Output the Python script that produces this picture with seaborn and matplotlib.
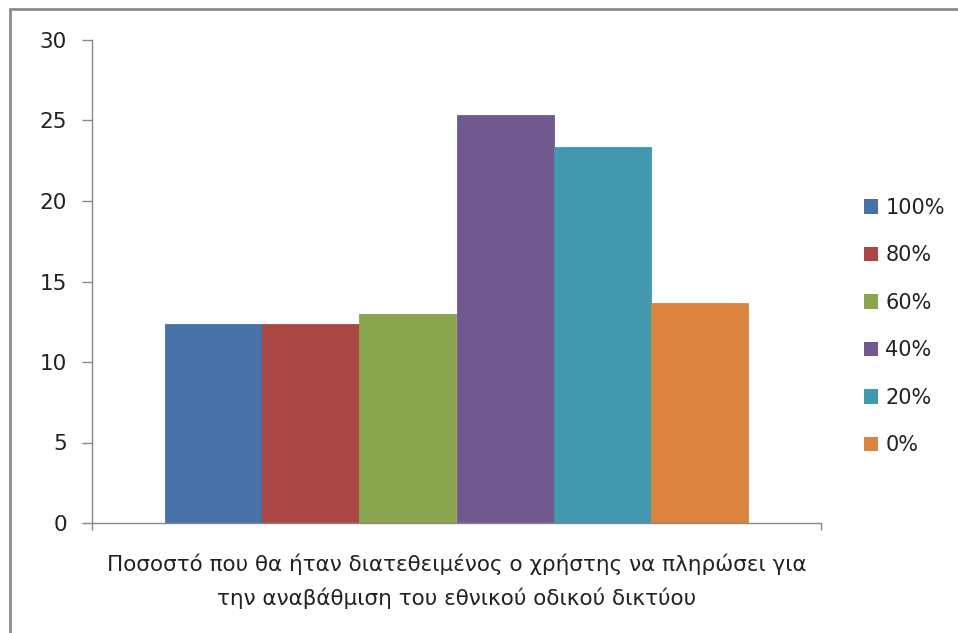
import matplotlib
matplotlib.use("Agg")
import matplotlib.pyplot as plt
import matplotlib.patches as mpatches
import pandas as pd
import seaborn as sns

# Survey answers: share of respondents per willingness-to-pay level
category = ["Ποσοστό που θα ήταν διατεθειμένος ο χρήστης να πληρώσει για\nτην αναβάθμιση του εθνικού οδικού δικτύου"]
levels = ["100%", "80%", "60%", "40%", "20%", "0%"]
shares = [12.33, 12.33, 13.0, 25.33, 23.33, 13.67]
colors = ["#4672A8", "#AA4644", "#89A54E", "#71588F", "#4198AF", "#DB843D"]
yticks = [0, 5, 10, 15, 20, 25, 30]

sns.set_theme(style="white")
plt.rcParams["font.family"] = ["DejaVu Sans"]

df = pd.DataFrame({
    "category": category * len(levels),
    "level": levels,
    "share": shares,
})

fig = plt.figure(figsize=(9.58, 6.33), dpi=100)
ax = fig.add_axes([92 / 958, 1 - 523 / 633, (821 - 92) / 958, (523 - 40) / 633])

sns.barplot(data=df, x="category", y="share", hue="level", hue_order=levels,
            palette=colors, width=0.8, saturation=1, ax=ax, legend=True,
            edgecolor="none", linewidth=0)

# edge each bar in its own colour so neighbouring bars join without a seam
for container in ax.containers:
    for bar in container:
        bar.set_edgecolor(bar.get_facecolor())
        bar.set_linewidth(0.6)

ax.set_ylim(0, 30)
ax.set_xlim(-0.5, 0.5)
ax.set_yticks(yticks)
ax.set_yticklabels([str(t) for t in yticks], fontsize=15.5, color="#222222")
ax.tick_params(axis="y", length=7, width=1, color="#888888", pad=11, left=True)

# category label under the axis, tick marks at the category boundaries
ax.set_xticks([0])
ax.set_xticklabels(category, fontsize=15.5, color="#222222", linespacing=1.7)
ax.tick_params(axis="x", which="major", length=0, pad=22)
ax.set_xticks([-0.5, 0.5], minor=True)
ax.tick_params(axis="x", which="minor", length=5, width=1, color="#888888", bottom=True)
ax.set_xlabel("")
ax.set_ylabel("")

for side in ["top", "right"]:
    ax.spines[side].set_visible(False)
for side in ["left", "bottom"]:
    ax.spines[side].set_color("#888888")
    ax.spines[side].set_linewidth(1)
    ax.spines[side].set_zorder(3)

leg = ax.legend(loc="center left", bbox_to_anchor=(1 + 43 / 729, 0.407), frameon=False,
                fontsize=15, handlelength=0.68, handleheight=0.68,
                handletextpad=0.35, labelspacing=1.32, borderaxespad=0, borderpad=0)
for t in leg.get_texts():
    t.set_color("#222222")

# outer chart frame
fig.patches.append(mpatches.Rectangle((10 / 958, -0.05), 1.2, 1 - 9 / 633 + 0.05,
                                      transform=fig.transFigure, fill=False,
                                      edgecolor="#8c8c8c", linewidth=2))

fig.savefig("out.png", dpi=100, facecolor="white")
